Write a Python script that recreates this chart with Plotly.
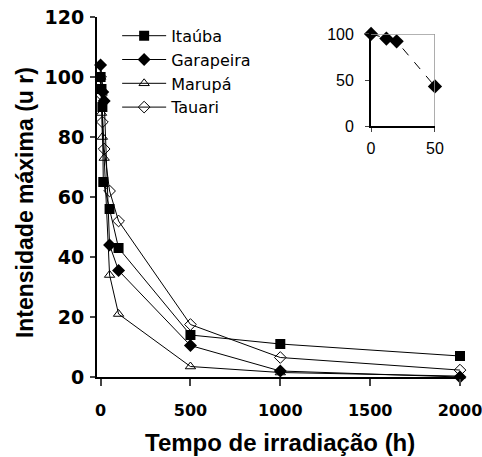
import plotly.graph_objects as go

# Data
itauba_t = [0, 5, 10, 15, 50, 100, 500, 1000, 2000]
itauba_v = [100, 96, 90, 65, 56, 43, 14, 11, 7]
garapeira_t = [0, 12, 20, 50, 100, 500, 1000, 2000]
garapeira_v = [104, 95, 92, 44, 35.5, 10.5, 2, 0]
marupa_t = [0, 5, 10, 20, 50, 100, 500, 1000, 2000]
marupa_v = [100, 88, 80, 73, 34, 21, 3.5, 1.5, 0.3]
tauari_t = [0, 5, 10, 20, 50, 100, 500, 1000, 2000]
tauari_v = [100, 94, 85, 76, 62, 52, 17.5, 6.5, 2.3]
inset_t = [0, 12, 20, 50]
inset_v = [100, 95, 92, 43]

x_ticks = [0, 500, 1000, 1500, 2000]
y_ticks = [0, 20, 40, 60, 80, 100, 120]

fig = go.Figure()
line = dict(color="black", width=1)
series = [
    ("Itaúba", itauba_t, itauba_v, dict(symbol="square", size=10, color="black")),
    ("Garapeira", garapeira_t, garapeira_v, dict(symbol="diamond", size=10, color="black")),
    ("Marupá", marupa_t, marupa_v, dict(symbol="triangle-up-open", size=9, color="black", line=dict(width=1))),
    ("Tauari", tauari_t, tauari_v, dict(symbol="diamond-open", size=9, color="black", line=dict(width=1))),
]
for name, t, v, mk in series:
    fig.add_trace(go.Scatter(x=t, y=v, name=name, mode="lines+markers",
                             line=line, marker=mk, cliponaxis=False))

fig.add_trace(go.Scatter(x=inset_t, y=inset_v, mode="lines+markers", showlegend=False,
                         line=dict(color="black", width=1, dash="dash"),
                         marker=dict(symbol="diamond", size=11, color="black"),
                         xaxis="x2", yaxis="y2", cliponaxis=False))

fig.update_layout(
    width=482, height=457,
    margin=dict(l=97, r=22, t=17, b=80),
    paper_bgcolor="white", plot_bgcolor="white",
    font=dict(family="Liberation Sans, Arial", color="black"),
    showlegend=True,
    legend=dict(x=0.0555, y=0.995, xanchor="left", yanchor="top",
                bgcolor="rgba(0,0,0,0)", font=dict(size=16, family="DejaVu Sans", color="black"),
                itemwidth=44),
    xaxis=dict(range=[-20, 2000], tickvals=x_ticks, ticks="outside", ticklen=7, tickwidth=1.5,
               showline=True, linecolor="black", linewidth=2, showgrid=False, zeroline=False,
               automargin=False, ticklabelstandoff=11, ticklabeloverflow="allow",
               tickfont=dict(size=16, family="DejaVu Sans", color="black", weight="bold")),
    yaxis=dict(range=[0, 120], tickvals=y_ticks, ticks="outside", ticklen=5, tickwidth=1.5,
               showline=True, linecolor="black", linewidth=2, showgrid=False, zeroline=False,
               automargin=False, ticklabelstandoff=2, ticklabeloverflow="allow",
               tickfont=dict(size=19, family="DejaVu Sans", color="black", weight="bold")),
    xaxis2=dict(domain=[0.755, 0.931], anchor="y2", range=[0, 50], tickvals=[0, 50],
                ticks="outside", ticklen=4, showline=True, linecolor="black", linewidth=2,
                showgrid=False, zeroline=False, automargin=False, ticklabelstandoff=3,
                tickfont=dict(size=16, family="Liberation Sans", color="black")),
    yaxis2=dict(domain=[0.697, 0.953], anchor="x2", range=[0, 100], tickvals=[0, 50, 100],
                ticks="outside", ticklen=4, showline=True, linecolor="black", linewidth=2,
                showgrid=False, zeroline=False, automargin=False, ticklabelstandoff=8,
                tickfont=dict(size=16, family="Liberation Sans", color="black")),
    shapes=[
        dict(type="line", xref="x2", yref="y2", x0=0, x1=50, y0=100, y1=100,
             line=dict(color="#999999", width=1.5)),
        dict(type="line", xref="x2", yref="y2", x0=50, x1=50, y0=0, y1=100,
             line=dict(color="#999999", width=1.5)),
    ],
    annotations=[
        dict(text="<b>Tempo de irradiação (h)</b>", xref="paper", yref="paper",
             x=0.503, y=0, yshift=-65, xanchor="center", yanchor="middle", showarrow=False,
             font=dict(size=24, family="Liberation Sans", color="black")),
        dict(text="<b>Intensidade máxima (u r)</b>", xref="paper", yref="paper",
             x=0, xshift=-72, y=0.483, xanchor="center", yanchor="middle", showarrow=False,
             textangle=-90, font=dict(size=23, family="Liberation Sans", color="black")),
    ],
)
fig.write_html("out.html", config={"displayModeBar": False},
               post_script="document.body.style.margin='0px';")
